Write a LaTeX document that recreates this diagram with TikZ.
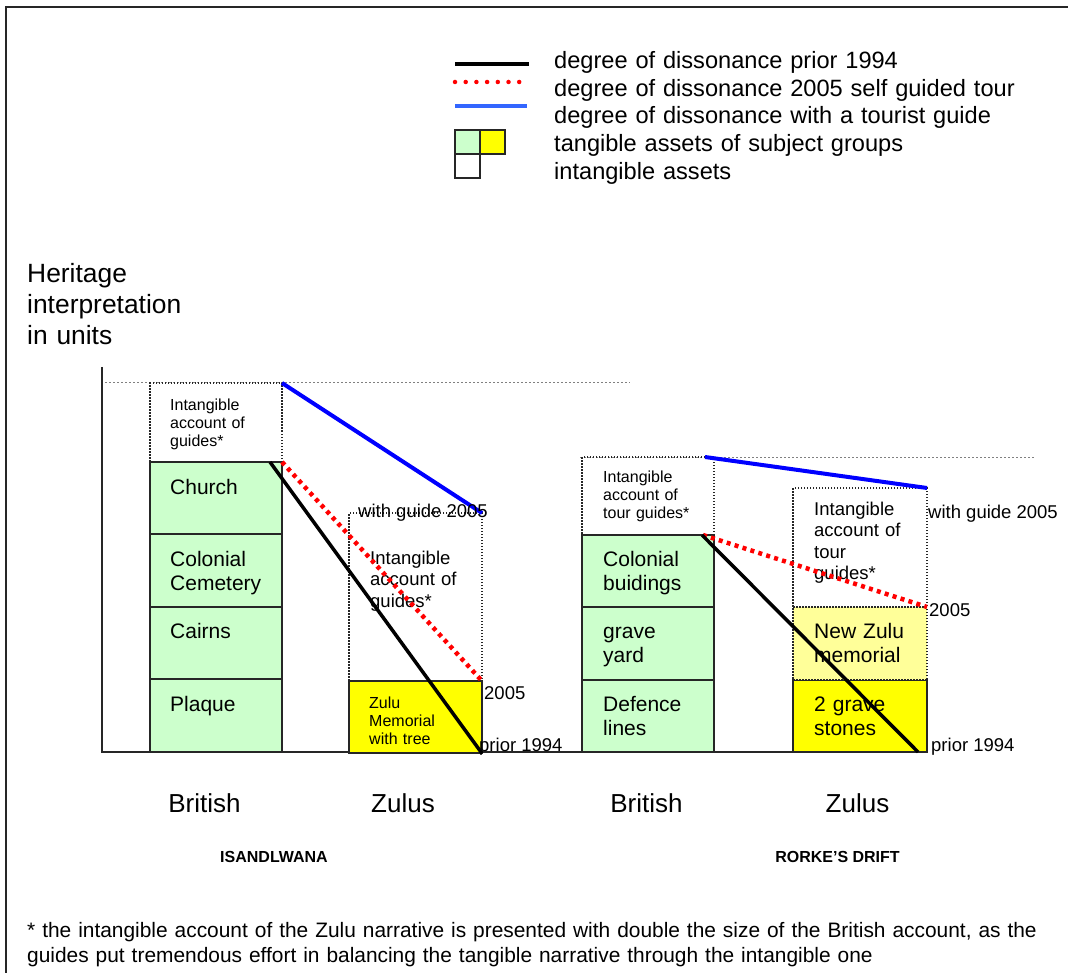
\documentclass[tikz,border=0pt]{standalone}
\usepackage{fontspec}
\setmainfont{Liberation Sans}
\usetikzlibrary{positioning}

\definecolor{tanggreen}{RGB}{204,255,204}
\definecolor{zuluyellow}{RGB}{255,255,0}
\definecolor{paleyellow}{RGB}{255,255,153}
\definecolor{legendblue}{RGB}{51,102,255}

\begin{document}
\begin{tikzpicture}[x=1pt, y=-1pt,
  tang/.style={rectangle, draw=black!85, line width=2pt, fill=tanggreen, minimum width=132pt, minimum height=72.4pt, inner sep=0pt, outer sep=0pt},
  zulu/.style={tang, fill=zuluyellow},
  intang/.style={rectangle, draw=black!85, line width=1.5pt, dash pattern=on 1.5pt off 1.5pt, minimum width=132pt, inner sep=0pt, outer sep=0pt},
  txt/.style={anchor=base west, inner sep=0pt, text width=112pt, align=left, font=\fontsize{21}{24}\selectfont},
  small/.style={txt, font=\fontsize{16}{18}\selectfont},
  mid/.style={txt, font=\fontsize{18.5}{21.3}\selectfont},
  note/.style={anchor=west, inner sep=0pt, font=\fontsize{18.5}{21}\selectfont},
  col/.style={inner sep=0pt, font=\fontsize{26}{30}\selectfont},
  site/.style={inner sep=0pt, font=\fontsize{16}{18}\selectfont\bfseries},
  prior/.style={black, line width=3.5pt},
  selfg/.style={red, line width=4.5pt, dash pattern=on 4pt off 4.3pt},
  guided/.style={blue, line width=4pt}]
      \useasboundingbox (0,0) rectangle (1068,973);

      % frame and axes
      \draw[line width=2pt, black!85] (6,973) -- (6,7) -- (1068,7);
      \draw[line width=2pt, black!85] (102,367) -- (102,752) -- (927,752);
      \draw[gray, line width=1pt, dash pattern=on 2pt off 2pt] (105,383) -- (630,383);
      \draw[gray, line width=1pt, dash pattern=on 2pt off 2pt] (580,457) -- (1035,457);

      % legend
      \draw[prior, line width=4pt] (455,64) -- (529,64);
      \draw[red, line width=4.5pt, line cap=round, dash pattern=on 0pt off 10.7pt] (455,82) -- (520,82);
      \draw[legendblue, line width=4pt] (455,106) -- (527,106);
      \node[tang, minimum width=25pt, minimum height=24pt, anchor=north west] (keyGreen) at (455,130) {};
      \node[zulu, minimum width=25pt, minimum height=24pt, right=0pt of keyGreen] (keyYellow) {};
      \node[tang, fill=white, minimum width=25pt, minimum height=24pt, below=0pt of keyGreen] (keyWhite) {};
      \node[anchor=base west, inner sep=0pt, text width=500pt, align=left, font=\fontsize{23.6}{27.75}\selectfont] (legendT) at (554,68.5) {degree of dissonance prior 1994\\ degree of dissonance 2005 self guided tour\\ degree of dissonance with a tourist guide\\ tangible assets of subject groups\\ intangible assets};

      \node[anchor=base west, inner sep=0pt, text width=220pt, align=left, font=\fontsize{26.4}{31}\selectfont] (unitsLbl) at (27,282.5) {Heritage\\ interpretation\\ in units};

      % Isandlwana
      \node[tang, anchor=north west] (church) at (150,462) {};
      \node[tang, below=0pt of church] (cemetery) {};
      \node[tang, below=0pt of cemetery] (cairns) {};
      \node[tang, below=0pt of cairns] (plaque) {};
      \node[intang, minimum height=79pt, above=0pt of church] (guideBI) {};
      \node[zulu, minimum width=133pt, anchor=north west] (memorial) at (349,681) {};
      \node[intang, minimum width=133pt, minimum height=168pt, above=0pt of memorial] (guideZI) {};

      \node[small] (guideBIT) at ([shift={(20,27.5)}]guideBI.north west) {Intangible\\ account of\\ guides*};
      \node[txt] (churchT) at ([shift={(20,32.5)}]church.north west) {Church};
      \node[txt] (cemeteryT) at ([shift={(20,32)}]cemetery.north west) {Colonial\\ Cemetery};
      \node[txt] (cairnsT) at ([shift={(20,32)}]cairns.north west) {Cairns};
      \node[txt] (plaqueT) at ([shift={(20,32)}]plaque.north west) {Plaque};
      \node[mid] (guideZIT) at ([shift={(21,51.5)}]guideZI.north west) {Intangible\\ account of\\ guides*};
      \node[small] (memorialT) at ([shift={(20,27.5)}]memorial.north west) {Zulu\\ Memorial\\ with tree};

      % Rorke's Drift
      \node[tang, anchor=north west] (buildings) at (582,535) {};
      \node[tang, below=0pt of buildings] (graveyard) {};
      \node[tang, below=0pt of graveyard] (defence) {};
      \node[intang, minimum height=78pt, above=0pt of buildings] (guideBR) {};
      \node[zulu, minimum width=134pt, minimum height=72pt, anchor=north west] (stones) at (793,680) {};
      \node[intang, fill=paleyellow, minimum width=134pt, minimum height=73pt, above=0pt of stones] (newmem) {};
      \node[intang, minimum width=134pt, minimum height=119pt, above=0pt of newmem] (guideZR) {};

      \node[small] (guideBRT) at ([shift={(21,25.5)}]guideBR.north west) {Intangible\\ account of\\ tour guides*};
      \node[txt] (buildingsT) at ([shift={(21,31.5)}]buildings.north west) {Colonial\\ buidings};
      \node[txt] (graveyardT) at ([shift={(21,31.5)}]graveyard.north west) {grave\\ yard};
      \node[txt] (defenceT) at ([shift={(21,31.5)}]defence.north west) {Defence\\ lines};
      \node[mid] (guideZRT) at ([shift={(21,27.5)}]guideZR.north west) {Intangible\\ account of\\ tour\\ guides*};
      \node[txt] (newmemT) at ([shift={(21,31.5)}]newmem.north west) {New Zulu\\ memorial};
      \node[txt] (stonesT) at ([shift={(21,31.5)}]stones.north west) {2 grave\\ stones};

      % degrees of dissonance
      \draw[guided] (guideBI.north east) -- (guideZI.north east);
      \draw[selfg] (church.north east) -- (guideZI.south east);
      \draw[prior] ([xshift=-12pt]church.north east) -- (memorial.south east);
      \draw[guided] ([xshift=-9pt]guideBR.north east) -- (guideZR.north east);
      \draw[selfg] ([xshift=-11pt]buildings.north east) -- (newmem.north east);
      \draw[prior] ([xshift=-12pt]buildings.north east) -- ([xshift=-9pt]stones.south east);

      \node[note] (guideLblI) at ([xshift=9pt]guideZI.north west) {with guide 2005};
      \node[note] (selfLblI) at ([shift={(2,12)}]guideZI.south east) {2005};
      \node[note] (priorLblI) at ([shift={(-3,-7)}]memorial.south east) {prior 1994};
      \node[note] (guideLblR) at ([shift={(1,26)}]guideZR.north east) {with guide 2005};
      \node[note] (selfLblR) at ([shift={(2,3)}]newmem.north east) {2005};
      \node[note] (priorLblR) at ([shift={(4,-5)}]stones.south east) {prior 1994};

      % column and site labels
      \node[col] (britI) at (204.5,803) {British};
      \node[col] (zuluI) at (403,803) {Zulus};
      \node[col] (britR) at (646.5,803) {British};
      \node[col] (zuluR) at (857.5,803) {Zulus};
      \node[site] (isand) at (274,857) {ISANDLWANA};
      \node[site] (rorke) at (837.5,857) {RORKE'S DRIFT};

      \node[anchor=base west, inner sep=0pt, text width=1040pt, align=left, font=\fontsize{20.9}{25}\selectfont] (footnote) at (27,937.5) {* the intangible account of the Zulu narrative is presented with double the size of the British account, as the\\ guides put tremendous effort in balancing the tangible narrative through the intangible one};
    \end{tikzpicture}
\end{document}
